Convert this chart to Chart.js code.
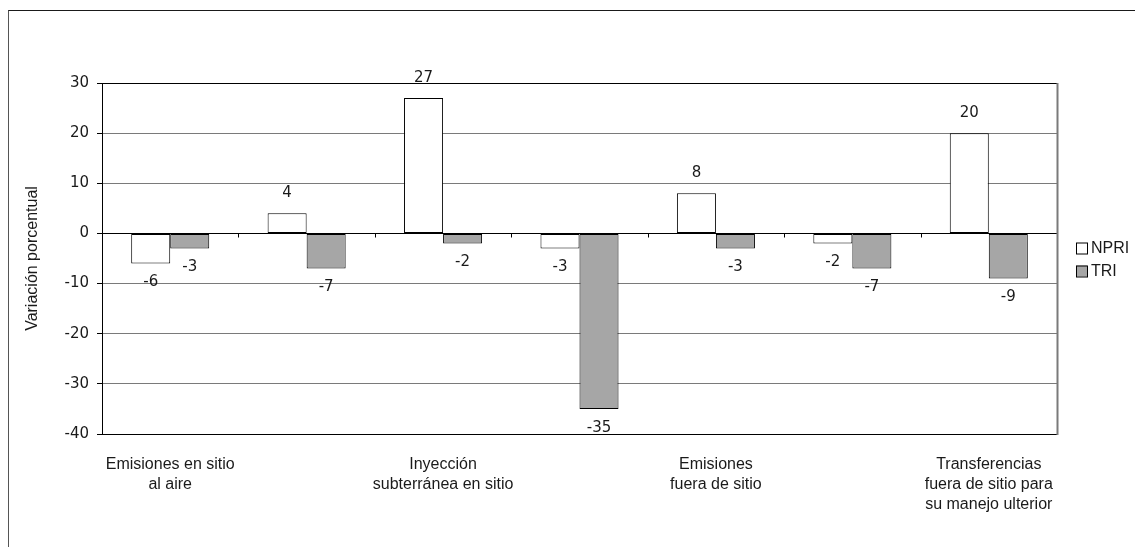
<!DOCTYPE html>
<html>
<head>
<meta charset="utf-8">
<title>Variación porcentual NPRI / TRI</title>
<script src="https://cdn.jsdelivr.net/npm/chart.js@4.4.1/dist/chart.umd.min.js"></script>
<style>
  html, body { margin: 0; padding: 0; background: #ffffff; }
  #wrap { position: relative; width: 1135px; height: 547px; overflow: hidden; }
  #c { position: absolute; left: 0; top: 0; }
  #frame {
    position: absolute; left: 8px; top: 10px; right: -2px; bottom: -2px;
    border-left: 1px solid #555555; border-top: 1px solid #1a1a1a;
    pointer-events: none;
  }
</style>
</head>
<body>
<div id="wrap">
  <canvas id="c" width="1135" height="547"></canvas>
  <div id="frame"></div>
</div>
<script>
// Categories (only every other one carries a printed label)
const categories = [
  ['Emisiones en sitio', 'al aire'],
  '',
  ['Inyección', 'subterránea en sitio'],
  '',
  ['Emisiones', 'fuera de sitio'],
  '',
  ['Transferencias', 'fuera de sitio para', 'su manejo ulterior']
];

// Percentage change per register
const seriesNames = ['NPRI', 'TRI'];
const npriValues = [-6, 4, 27, -3, 8, -2, 20];
const triValues = [-3, -7, -2, -35, -3, -7, -9];

// Value axis
const yMin = -40;
const yMax = 30;
const yStep = 10;
const yTitle = 'Variación porcentual';

const NUM_FONT = 'DejaVu Sans';
const TXT_FONT = 'Liberation Sans';

// Small tick marks on the zero line between categories
const zeroLineTicks = {
  id: 'zeroLineTicks',
  afterDraw(chart) {
    const x = chart.scales.x, y = chart.scales.y;
    const ctx = chart.ctx;
    const y0 = Math.round(y.getPixelForValue(0)) + 0.5;
    ctx.save();
    ctx.strokeStyle = '#000000';
    ctx.lineWidth = 1;
    ctx.beginPath();
    for (let i = 1; i < categories.length; i++) {
      const px = Math.round(x.getPixelForValue(i - 0.5)) + 0.5;
      ctx.moveTo(px, y0);
      ctx.lineTo(px, y0 + 4);
    }
    ctx.stroke();
    ctx.restore();
  }
};

// Right edge of the plot area
const plotRightEdge = {
  id: 'plotRightEdge',
  afterDraw(chart) {
    const a = chart.chartArea, ctx = chart.ctx;
    ctx.save();
    ctx.strokeStyle = '#7a7a7a';
    ctx.lineWidth = 2;
    ctx.beginPath();
    ctx.moveTo(a.right + 0.5, a.top);
    ctx.lineTo(a.right + 0.5, a.bottom + 1);
    ctx.stroke();
    ctx.restore();
  }
};

// Value labels outside each bar end
const valueLabels = {
  id: 'valueLabels',
  afterDatasetsDraw(chart) {
    const ctx = chart.ctx;
    ctx.save();
    ctx.font = '15px "' + NUM_FONT + '"';
    ctx.fillStyle = '#1a1a1a';
    ctx.textAlign = 'center';
    ctx.textBaseline = 'middle';
    chart.data.datasets.forEach((ds, di) => {
      const meta = chart.getDatasetMeta(di);
      meta.data.forEach((bar, j) => {
        const v = ds.data[j];
        const ly = v >= 0 ? bar.y - 20 : bar.y + 19;
        ctx.fillText(String(v), bar.x, ly);
      });
    });
    ctx.restore();
  }
};

// Legend to the right of the plot
const sideLegend = {
  id: 'sideLegend',
  afterDraw(chart) {
    const ctx = chart.ctx, a = chart.chartArea;
    const boxX = a.right + 19;
    const rowH = 23;
    const n = chart.data.datasets.length;
    const cy = (a.top + a.bottom) / 2 + 1 - (n - 1) * rowH / 2;
    ctx.save();
    ctx.font = '16px "' + TXT_FONT + '"';
    ctx.textBaseline = 'middle';
    ctx.textAlign = 'left';
    chart.data.datasets.forEach((ds, i) => {
      const yc = Math.round(cy + i * rowH);
      ctx.fillStyle = ds.backgroundColor;
      ctx.fillRect(boxX, yc - 5.5, 11, 11);
      ctx.strokeStyle = '#000000';
      ctx.lineWidth = 1;
      ctx.strokeRect(boxX + 0.5, yc - 5, 11, 11);
      ctx.fillStyle = '#1a1a1a';
      ctx.fillText(ds.label, boxX + 15, yc + 1);
    });
    ctx.restore();
  }
};

const edgeValues = [0, yMin, yMax];

new Chart(document.getElementById('c'), {
  type: 'bar',
  data: {
    labels: categories,
    datasets: [
      {
        label: seriesNames[0],
        data: npriValues,
        backgroundColor: '#ffffff',
        borderColor: '#000000',
        borderWidth: 1,
        borderSkipped: false
      },
      {
        label: seriesNames[1],
        data: triValues,
        backgroundColor: '#a6a6a6',
        borderColor: '#000000',
        borderWidth: 1,
        borderSkipped: false
      }
    ]
  },
  options: {
    responsive: false,
    animation: false,
    events: [],
    layout: { padding: { top: 83, right: 78, bottom: 0, left: 0 } },
    plugins: {
      legend: { display: false },
      tooltip: { enabled: false },
      title: { display: false }
    },
    datasets: {
      bar: { categoryPercentage: 0.572, barPercentage: 1.0 }
    },
    scales: {
      x: {
        afterFit(scale) { scale.height = 113; },
        grid: { display: false },
        border: { display: true, color: '#000000', width: 1 },
        ticks: {
          autoSkip: false,
          maxRotation: 0,
          minRotation: 0,
          padding: 13,
          color: '#1a1a1a',
          font: { family: TXT_FONT, size: 16, lineHeight: 1.25 }
        }
      },
      y: {
        min: yMin,
        max: yMax,
        afterFit(scale) { scale.width = 102; },
        ticks: {
          stepSize: yStep,
          padding: 8,
          color: '#1a1a1a',
          font: { family: NUM_FONT, size: 15 }
        },
        grid: {
          color: (c) => (c.tick && edgeValues.includes(c.tick.value)) ? '#000000' : '#7a7a7a',
          lineWidth: 1,
          tickLength: 5,
          tickColor: '#000000',
          drawTicks: true
        },
        border: { display: true, color: '#000000', width: 1 },
        title: {
          display: true,
          text: yTitle,
          color: '#1a1a1a',
          font: { family: TXT_FONT, size: 16 },
          padding: { top: 23, bottom: 0 }
        }
      }
    }
  },
  plugins: [zeroLineTicks, plotRightEdge, valueLabels, sideLegend]
});
</script>
</body>
</html>
